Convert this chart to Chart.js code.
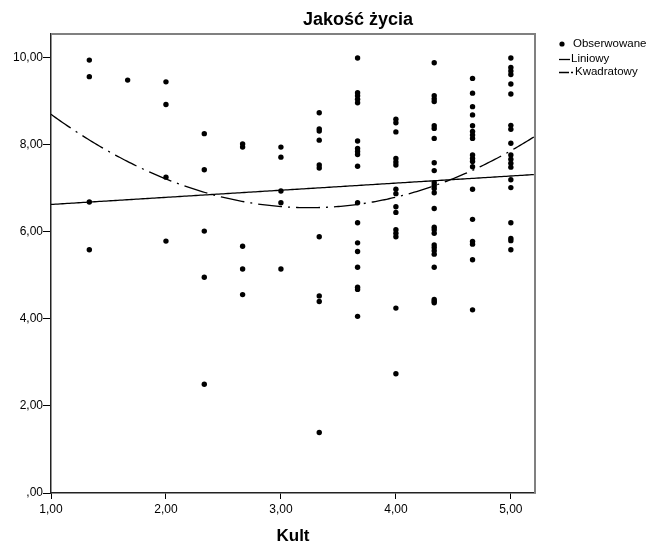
<!DOCTYPE html>
<html>
<head>
<meta charset="utf-8">
<title>Jakość życia</title>
<script src="https://cdn.jsdelivr.net/npm/chart.js@4.4.1/dist/chart.umd.min.js"></script>
<style>
  body { margin: 0; background: #fff; }
  #wykres { display: block; }
</style>
</head>
<body>
<canvas id="wykres" width="657" height="543"></canvas>
<script>
// poziomy zmiennej Kult (skala co 1/3)
var kultLevels = [4/3, 5/3, 2, 7/3, 8/3, 3, 10/3, 11/3, 4, 13/3, 14/3, 5];

// Jakość życia - obserwacje dla kolejnych poziomów Kult
var jakosc = [
  [9.95, 9.57, 6.69, 5.59],
  [9.49],
  [9.45, 8.93, 7.26, 5.79],
  [8.26, 7.43, 6.02, 4.96, 2.50],
  [8.02, 7.95, 5.67, 5.15, 4.56],
  [7.95, 7.72, 6.94, 6.67, 5.15],
  [8.74, 8.37, 8.32, 8.11, 7.54, 7.47, 5.89, 4.53, 4.40, 1.39],
  [10.0, 9.20, 9.13, 9.05, 8.97, 8.09, 7.92, 7.85, 7.78, 7.51, 6.67, 6.21, 5.75, 5.55, 5.19, 4.73, 4.68, 4.06],
  [8.59, 8.51, 8.30, 7.69, 7.61, 7.54, 6.98, 6.88, 6.58, 6.45, 6.05, 5.97, 5.89, 4.25, 2.74],
  [9.89, 9.13, 9.06, 9.00, 8.44, 8.38, 8.15, 7.59, 7.41, 7.13, 7.07, 7.00, 6.90, 6.54, 6.11, 6.05, 5.97, 5.70, 5.64, 5.57, 5.49, 5.19, 4.45, 4.41, 4.37],
  [9.53, 9.19, 8.88, 8.69, 8.44, 8.31, 8.23, 8.15, 7.77, 7.69, 7.62, 7.50, 6.98, 6.29, 5.78, 5.72, 5.36, 4.21],
  [10.0, 9.78, 9.70, 9.62, 9.40, 9.17, 8.45, 8.36, 8.04, 7.77, 7.67, 7.58, 7.49, 7.20, 7.02, 6.21, 5.85, 5.80, 5.59]
];

var xTicks = [1, 2, 3, 4, 5];
var yTicks = [0, 2, 4, 6, 8, 10];
var legendLabels = ['Obserwowane', 'Liniowy', 'Kwadratowy'];

var X_MIN = 1, X_MAX = 5.21, Y_MIN = 0, Y_MAX = 10.55;
var FONT = "'Liberation Sans', Arial, Helvetica, sans-serif";

var punkty = [];
kultLevels.forEach(function(k, i){
  jakosc[i].forEach(function(v){ punkty.push({x: k, y: v}); });
});

// dopasowanie liniowe i kwadratowe (metoda najmniejszych kwadratów)
function solve(A, b){
  var n = b.length;
  for (var i = 0; i < n; i++){
    var p = i;
    for (var r = i + 1; r < n; r++) if (Math.abs(A[r][i]) > Math.abs(A[p][i])) p = r;
    var t = A[i]; A[i] = A[p]; A[p] = t;
    var tb = b[i]; b[i] = b[p]; b[p] = tb;
    for (var r2 = i + 1; r2 < n; r2++){
      var f = A[r2][i] / A[i][i];
      for (var c = i; c < n; c++) A[r2][c] -= f * A[i][c];
      b[r2] -= f * b[i];
    }
  }
  var x = new Array(n);
  for (var i2 = n - 1; i2 >= 0; i2--){
    var s = b[i2];
    for (var c2 = i2 + 1; c2 < n; c2++) s -= A[i2][c2] * x[c2];
    x[i2] = s / A[i2][i2];
  }
  return x;
}
function polyFit(pts, deg){
  var m = deg + 1;
  var A = [], b = [];
  for (var i = 0; i < m; i++){
    A.push(new Array(m).fill(0));
    b.push(0);
  }
  pts.forEach(function(p){
    for (var i = 0; i < m; i++){
      b[i] += Math.pow(p.x, i) * p.y;
      for (var j = 0; j < m; j++) A[i][j] += Math.pow(p.x, i + j);
    }
  });
  return solve(A, b);
}
function fitLine(coef){
  var out = [];
  for (var x = X_MIN; x <= X_MAX + 1e-9; x += 0.02){
    var y = 0;
    for (var i = 0; i < coef.length; i++) y += coef[i] * Math.pow(x, i);
    out.push({x: x, y: y});
  }
  return out;
}
var liniowy = fitLine(polyFit(punkty, 1));
var kwadratowy = fitLine(polyFit(punkty, 2));

function fmt(v){
  return v === 0 ? ',00' : v.toFixed(2).replace('.', ',');
}

// tytuł, ramka i legenda rysowane ręcznie
var dodatki = {
  id: 'dodatki',
  afterDraw: function(chart){
    var ctx = chart.ctx, a = chart.chartArea;
    ctx.save();
    ctx.strokeStyle = '#808080';
    ctx.lineWidth = 2;
    ctx.beginPath();
    ctx.moveTo(a.left, a.top);
    ctx.lineTo(a.right, a.top);
    ctx.lineTo(a.right, a.bottom);
    ctx.stroke();

    ctx.fillStyle = '#000';
    ctx.font = 'bold 18px ' + FONT;
    ctx.textAlign = 'center';
    ctx.textBaseline = 'middle';
    ctx.fillText('Jakość życia', 358, 20);

    ctx.font = '11.5px ' + FONT;
    ctx.textAlign = 'left';
    ctx.beginPath();
    ctx.arc(562, 44, 2.6, 0, Math.PI * 2);
    ctx.fill();
    ctx.fillText(legendLabels[0], 573, 44);

    ctx.strokeStyle = '#000';
    ctx.lineWidth = 1.3;
    ctx.beginPath();
    ctx.moveTo(559, 59.5);
    ctx.lineTo(570, 59.5);
    ctx.stroke();
    ctx.fillText(legendLabels[1], 571, 59);

    ctx.beginPath();
    ctx.moveTo(559, 72.5);
    ctx.lineTo(569, 72.5);
    ctx.moveTo(571, 72.5);
    ctx.lineTo(573, 72.5);
    ctx.stroke();
    ctx.fillText(legendLabels[2], 575, 72);
    ctx.restore();
  }
};

var ctx = document.getElementById('wykres').getContext('2d');
var myChart = new Chart(ctx, {
  type: 'scatter',
  data: {
    datasets: [
      {
        label: legendLabels[0],
        data: punkty,
        backgroundColor: '#000',
        borderColor: '#000',
        borderWidth: 0,
        pointRadius: 2.7,
        pointHoverRadius: 2.7
      },
      {
        type: 'line',
        label: legendLabels[1],
        data: liniowy,
        borderColor: '#000',
        borderWidth: 1.3,
        pointRadius: 0,
        fill: false
      },
      {
        type: 'line',
        label: legendLabels[2],
        data: kwadratowy,
        borderColor: '#000',
        borderWidth: 1.3,
        borderDash: [24, 6, 2, 6],
        pointRadius: 0,
        fill: false
      }
    ]
  },
  options: {
    responsive: false,
    animation: false,
    events: [],
    layout: { padding: { top: 34, right: 122, left: 0, bottom: 0 } },
    plugins: {
      legend: { display: false },
      title: { display: false },
      tooltip: { enabled: false }
    },
    scales: {
      x: {
        type: 'linear',
        min: X_MIN,
        max: X_MAX,
        afterBuildTicks: function(scale){
          scale.ticks = xTicks.map(function(v){ return {value: v}; });
        },
        afterFit: function(scale){ scale.height = 50; },
        ticks: {
          callback: fmt,
          color: '#000',
          padding: 3.5,
          maxRotation: 0,
          autoSkip: false,
          font: { family: FONT, size: 12 }
        },
        grid: { drawOnChartArea: false, color: '#000', tickLength: 6, lineWidth: 1 },
        border: { display: true, color: '#222', width: 1.5 },
        title: {
          display: true,
          text: 'Kult',
          color: '#000',
          padding: 0,
          font: { family: FONT, size: 17, weight: 'bold', lineHeight: 0.8 }
        }
      },
      y: {
        type: 'linear',
        min: Y_MIN,
        max: Y_MAX,
        afterBuildTicks: function(scale){
          scale.ticks = yTicks.map(function(v){ return {value: v}; });
        },
        afterFit: function(scale){ scale.width = 51; },
        ticks: {
          callback: fmt,
          color: '#000',
          padding: 0,
          autoSkip: false,
          font: { family: FONT, size: 12 }
        },
        grid: { drawOnChartArea: false, color: '#000', tickLength: 8, lineWidth: 1 },
        border: { display: true, color: '#222', width: 1.5 }
      }
    }
  },
  plugins: [dodatki]
});
</script>
</body>
</html>
